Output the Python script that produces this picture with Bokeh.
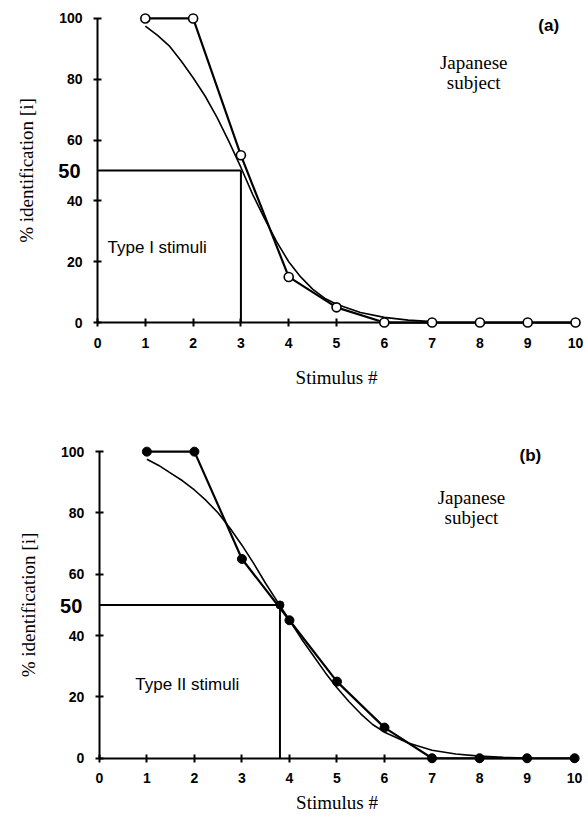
from bokeh.plotting import figure
from bokeh.models import FixedTicker, Label
from bokeh.layouts import column
from bokeh.embed import file_html
from bokeh.resources import INLINE

# ---------------- data ----------------
stimulus = [1, 2, 3, 4, 5, 6, 7, 8, 9, 10]
ident_a = [100, 100, 55, 15, 5, 0, 0, 0, 0, 0]
ident_b = [100, 100, 65, 45, 25, 10, 0, 0, 0, 0]

fit_a_x = [1, 1.25, 1.5, 1.75, 2, 2.25, 2.5, 2.75, 3, 3.25, 3.5, 3.75, 4, 4.25,
           4.5, 4.75, 5, 5.5, 6, 6.5, 7]
fit_a_y = [97.5, 94.5, 91, 86, 80.5, 74.5, 67.5, 59.5, 51, 42, 34, 26.5, 20, 15,
           11, 8, 6, 3.3, 1.7, 0.8, 0.3]

fit_b_x = [1, 1.25, 1.5, 1.75, 2, 2.25, 2.5, 2.75, 3, 3.25, 3.5, 3.75, 4, 4.25,
           4.5, 4.75, 5, 5.25, 5.5, 5.75, 6, 6.5, 7, 7.5, 8, 8.5, 9]
fit_b_y = [97.5, 95.5, 93, 90.5, 87.5, 84, 80, 75, 69.5, 63.5, 57, 51, 45, 39,
           33.5, 28, 23, 18.5, 14.5, 11, 8.5, 5, 2.6, 1.4, 0.7, 0.3, 0.1]

cross_a = 3.0   # 50% crossover, panel (a)
cross_b = 3.8   # 50% crossover, panel (b)
half = 50

x_ticks = [0, 1, 2, 3, 4, 5, 6, 7, 8, 9, 10]
y_ticks = [0, 20, 40, 60, 80, 100]

SANS = "Liberation Sans"
SERIF = "Liberation Serif"


def make_panel(ident, fx, fy, cross, filled, height, xr, yr, xlabel_standoff):
    p = figure(width=586, height=height, x_range=xr, y_range=yr,
               output_backend="svg", toolbar_location=None,
               min_border=0, min_border_left=0, min_border_right=0,
               min_border_top=0, min_border_bottom=0)
    p.outline_line_color = None
    p.xgrid.visible = False
    p.ygrid.visible = False
    p.background_fill_color = "white"
    p.border_fill_color = "white"

    for ax in (p.xaxis, p.yaxis):
        ax.fixed_location = 0
        ax.axis_line_width = 2
        ax.axis_line_color = "black"
        ax.major_tick_line_width = 2
        ax.major_tick_line_color = "black"
        ax.major_tick_in = 4
        ax.major_tick_out = 4
        ax.minor_tick_line_color = None
        ax.major_label_text_font = SANS
        ax.major_label_text_font_style = "bold"
        ax.major_label_text_font_size = "14px"
        ax.major_label_text_color = "black"
        ax.axis_label_text_font = SERIF
        ax.axis_label_text_font_style = "normal"
        ax.axis_label_text_font_size = "19px"
        ax.axis_label_text_color = "black"

    p.xaxis.ticker = FixedTicker(ticks=x_ticks)
    p.yaxis.ticker = FixedTicker(ticks=y_ticks)
    p.xaxis.bounds = (0, 10)
    p.yaxis.bounds = (0, 100)
    p.xaxis.major_label_standoff = 11
    p.yaxis.major_label_standoff = 11
    p.xaxis.axis_label = "Stimulus #"
    p.yaxis.axis_label = "% identification [i]"
    p.xaxis.axis_label_standoff = xlabel_standoff
    p.yaxis.axis_label_standoff = 19

    # 50% reference lines
    p.segment(x0=[0], y0=[half], x1=[cross], y1=[half], line_color="black", line_width=2)
    p.segment(x0=[cross], y0=[0], x1=[cross], y1=[half], line_color="black", line_width=2)

    # fitted curve
    p.line(fx, fy, line_color="black", line_width=1.6)
    # data
    p.line(stimulus, ident, line_color="black", line_width=2.2)
    if filled:
        r0 = p.scatter([cross], [half], size=8, marker="circle", fill_color="black",
                       line_color="black")
        r = p.scatter(stimulus, ident, size=9, marker="circle", fill_color="black",
                      line_color="black")
        r0.level = "overlay"
    else:
        r = p.scatter(stimulus, ident, size=9, marker="circle", fill_color="white",
                      line_color="black", line_width=1.6)
    r.level = "overlay"

    p.add_layout(Label(x=0, y=half, x_offset=-17, y_offset=-1, text="50", text_align="right",
                       text_baseline="middle", text_font=SANS, text_font_style="bold",
                       text_font_size="20px", text_color="black"))
    return p


def note(p, x, y, text, font, size, style="normal", align="center"):
    p.add_layout(Label(x=x, y=y, text=text, text_align=align, text_baseline="middle",
                       text_font=font, text_font_size=size, text_font_style=style,
                       text_color="black"))


# panel (a): x=0 at px 97, 47.8 px/unit; y=100 at px 18, 3.04 px/unit
p1 = make_panel(ident_a, fit_a_x, fit_a_y, cross_a, False, 430,
                (-2.03, 10.23), (-35.5, 105.9), 16)
note(p1, 9.44, 97.7, "(a)", SANS, "17px", "bold")
note(p1, 7.87, 85.6, "Japanese", SERIF, "19px")
note(p1, 7.87, 79.0, "subject", SERIF, "19px")
note(p1, 0.21, 24.8, "Type I stimuli", SANS, "17px", align="left")

# panel (b): x=0 at px 99, 47.5 px/unit; y=100 at px 21, 3.05 px/unit
p2 = make_panel(ident_b, fit_b_x, fit_b_y, cross_b, True, 386,
                (-2.08, 10.25), (-19.0, 106.9), 5)
note(p2, 9.07, 98.7, "(b)", SANS, "17px", "bold")
note(p2, 7.83, 85.0, "Japanese", SERIF, "19px")
note(p2, 7.83, 78.5, "subject", SERIF, "19px")
note(p2, 1.85, 23.9, "Type II stimuli", SANS, "17px")

layout = column(p1, p2, spacing=0)
open("out.html", "w").write(file_html(layout, INLINE))
